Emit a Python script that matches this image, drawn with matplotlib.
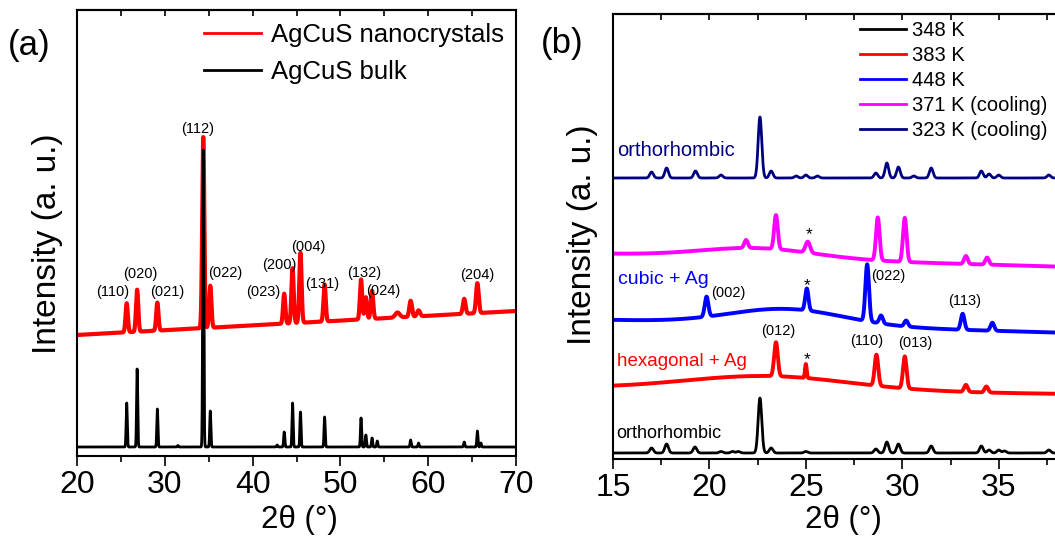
import numpy as np
import matplotlib.pyplot as plt
from matplotlib.ticker import MultipleLocator

plt.rcParams['font.family'] = ['Liberation Sans', 'DejaVu Sans']

# ---- (a) AgCuS nanocrystals vs bulk, 2theta 20-70 ----
# peak tables: position (deg), height (a.u.), fwhm (deg)
nano_base = (121, 145)
nano_pos = [25.66, 26.85, 29.15, 34.38, 35.18, 43.6, 44.55, 45.45, 48.2, 52.35, 52.9, 53.6, 56.5, 58.0, 58.9, 64.1, 65.6]
nano_h = [29, 42, 28, 191, 42, 30, 55, 70, 37, 40, 22, 28, 5, 16, 6, 15, 30]
nano_w = [0.30, 0.30, 0.30, 0.28, 0.30, 0.30, 0.30, 0.30, 0.30, 0.30, 0.30, 0.32, 0.6, 0.35, 0.4, 0.35, 0.35]

bulk_base = (9, 9)
bulk_pos = [25.66, 26.85, 29.15, 31.5, 34.38, 35.18, 42.8, 43.6, 44.55, 45.45, 48.2, 52.35, 52.9, 53.6, 54.2, 58.0, 58.9, 64.1, 65.6, 66.0]
bulk_h = [44, 78, 38, 1.5, 297, 36, 2, 15, 44, 35, 30, 29, 12, 9, 6, 7, 4, 5, 16, 4]
bulk_w = [0.15] * len(bulk_pos)

hkl_a = ['(110)', '(020)', '(021)', '(112)', '(022)', '(023)', '(200)', '(004)', '(131)', '(132)', '(024)', '(204)']
hkl_a_x = [24.1, 27.18, 30.25, 33.78, 36.86, 41.18, 43.0, 46.3, 47.9, 52.7, 54.85, 65.56]
hkl_a_y = [164, 182, 164, 327, 183, 164, 191, 209, 172, 183, 165, 181]

# ---- (b) in-situ temperature series, 2theta 15-38.8 ----
temps = ['348 K', '383 K', '448 K', '371 K (cooling)', '323 K (cooling)']
colors = ['black', '#ff0000', '#0000ff', '#ff00ff', '#000080']

b_base = [(6, 6), (71, 65), (139, 126), (205, 192), (281, 281)]
# broad amorphous hump: centre, height, fwhm
b_hump = [(22.5, 0, 8), (23.0, 14, 10), (24.0, 16, 7), (22.5, 10, 7), (22.5, 0, 8)]
b_pos = [
    [17.0, 17.78, 19.25, 20.6, 21.2, 21.5, 22.62, 23.2, 25.0, 28.63, 29.2, 29.8, 31.5, 34.1, 34.5, 35.0, 35.3, 37.6],
    [23.45, 25.0, 28.66, 30.13, 33.3, 34.36],
    [19.85, 25.05, 28.18, 28.9, 30.2, 33.13, 34.67],
    [21.9, 23.45, 25.1, 28.73, 30.13, 33.3, 34.4],
    [17.0, 17.78, 19.28, 20.6, 22.62, 23.2, 24.5, 25.0, 25.6, 28.63, 29.2, 29.8, 30.6, 31.5, 34.1, 34.5, 35.0, 37.6],
]
b_h = [
    [5, 9, 6, 1.5, 1.5, 1.5, 55, 5, 1.5, 4, 11, 9, 7, 7, 3, 3, 2, 3],
    [34, 14, 31, 32, 7, 6],
    [20, 22, 57, 8, 6, 16, 8],
    [8, 34, 11, 43, 44, 8, 7],
    [6, 10, 7, 3, 61, 7, 2, 3, 2, 5, 15, 11, 2, 10, 7, 4, 3, 3],
]
b_w = [0.22, 0.22, 0.22, 0.22, 0.22]
b_w_star = [0.22, 0.10, 0.20, 0.28, 0.22]

phase_txt = ['orthorhombic', 'hexagonal + Ag', 'cubic + Ag', 'orthorhombic']
phase_col = ['black', '#ff0000', '#0000ff', '#000080']
phase_x = [15.15, 15.2, 15.26, 15.2]
phase_y = [26, 97, 179, 309]
phase_fs = [13, 13.5, 14, 14.5]

hkl_b = ['(002)', '*', '(022)', '(113)', '(012)', '*', '(110)', '(013)', '*']
hkl_b_x = [20.96, 25.05, 29.25, 33.24, 23.55, 25.05, 28.16, 30.65, 25.16]
hkl_b_y = [166, 173, 183, 158, 128, 99, 118, 116, 224]


def pattern(x, base, pos, h, w, hump=None):
    y = base[0] + (base[1] - base[0]) * (x - x[0]) / (x[-1] - x[0])
    if hump is not None:
        c, a, fw = hump
        y = y + a * np.exp(-4 * np.log(2) * (x - c) ** 2 / fw ** 2)
    for p, a, fw in zip(pos, h, w):
        y = y + a * np.exp(-4 * np.log(2) * (x - p) ** 2 / fw ** 2)
    return y


def frame(ax, major, minor):
    for s in ax.spines.values():
        s.set_linewidth(1.5)
    ax.xaxis.set_major_locator(MultipleLocator(major))
    ax.xaxis.set_minor_locator(MultipleLocator(minor))
    ax.tick_params(axis='x', which='major', direction='out', length=7, width=1.2, labelsize=23, pad=3)
    ax.tick_params(axis='x', which='minor', direction='out', length=4, width=1.2)
    ax.tick_params(axis='y', left=False, labelleft=False)
    # small inward ticks along the top frame
    top = ax.secondary_xaxis('top')
    top.xaxis.set_major_locator(MultipleLocator(minor))
    top.tick_params(direction='in', length=4, width=1.2, labeltop=False)
    top.spines['top'].set_linewidth(1.5)


W, H = 1055, 537
fig = plt.figure(figsize=(W / 100, H / 100), dpi=100)
ax1 = fig.add_axes([77 / W, 81 / H, 439 / W, 446 / H])
ax2 = fig.add_axes([613 / W, 78 / H, 459 / W, 445 / H])

xa = np.linspace(20, 70, 5001)
ax1.plot(xa, pattern(xa, nano_base, nano_pos, nano_h, nano_w), color='#ff0000', lw=3.0,
         label='AgCuS nanocrystals')
ax1.plot(xa, pattern(xa, bulk_base, bulk_pos, bulk_h, bulk_w), color='black', lw=2.0,
         label='AgCuS bulk')
for t, x, y in zip(hkl_a, hkl_a_x, hkl_a_y):
    ax1.text(x, y, t, fontsize=10.5, ha='center', va='center')
ax1.set_xlim(20, 70)
ax1.set_ylim(0, 446)
frame(ax1, 10, 5)
leg1 = ax1.legend(loc='upper left', bbox_to_anchor=(194 / W, 1 - 13 / H), bbox_transform=fig.transFigure,
                  frameon=False, fontsize=18.5, handlelength=2.2, handletextpad=0.4, labelspacing=0.5,
                  borderaxespad=0, borderpad=0.4)
for line in leg1.get_lines():
    line.set_linewidth(2.0)

xb = np.linspace(15, 38.8, 2381)
for i in range(5):
    w = [b_w_star[i] if abs(p - 25.05) < 0.1 else b_w[i] for p in b_pos[i]]
    yb = pattern(xb, b_base[i], b_pos[i], b_h[i], w, b_hump[i])
    lw = 2.0 if i in (0, 4) else 2.8
    ax2.plot(xb, yb, color=colors[i], lw=lw, label=temps[i])
for t, c, x, y, fs in zip(phase_txt, phase_col, phase_x, phase_y, phase_fs):
    ax2.text(x, y, t, color=c, fontsize=fs, ha='left', va='center')
for t, x, y in zip(hkl_b, hkl_b_x, hkl_b_y):
    ax2.text(x, y, t, fontsize=12.5 if t == '*' else 10.5, ha='center', va='center')
ax2.set_xlim(15, 38.8)
ax2.set_ylim(0, 445)
frame(ax2, 5, 2.5)
leg2 = ax2.legend(loc='upper left', bbox_to_anchor=(852 / W, 1 - 13 / H), bbox_transform=fig.transFigure,
                  frameon=False, fontsize=14.5, handlelength=2.3, handletextpad=0.3,
                  labelspacing=0.3, borderaxespad=0, borderpad=0.4)
for line in leg2.get_lines():
    line.set_linewidth(2.0)

fig.text(29 / W, 1 - 45 / H, '(a)', fontsize=25, ha='center', va='center')
fig.text(562 / W, 1 - 44 / H, '(b)', fontsize=25, ha='center', va='center')
fig.text(48 / W, 1 - 244 / H, 'Intensity (a. u.)', fontsize=24, rotation=90, ha='center', va='center')
fig.text(582 / W, 1 - 235 / H, 'Intensity (a. u.)', fontsize=24, rotation=90, ha='center', va='center')
fig.text(299 / W, 1 - 520 / H, '2θ (°)', fontsize=22.5, ha='center', va='center')
fig.text(843 / W, 1 - 520 / H, '2θ (°)', fontsize=22.5, ha='center', va='center')

fig.savefig('out.png', dpi=100)
